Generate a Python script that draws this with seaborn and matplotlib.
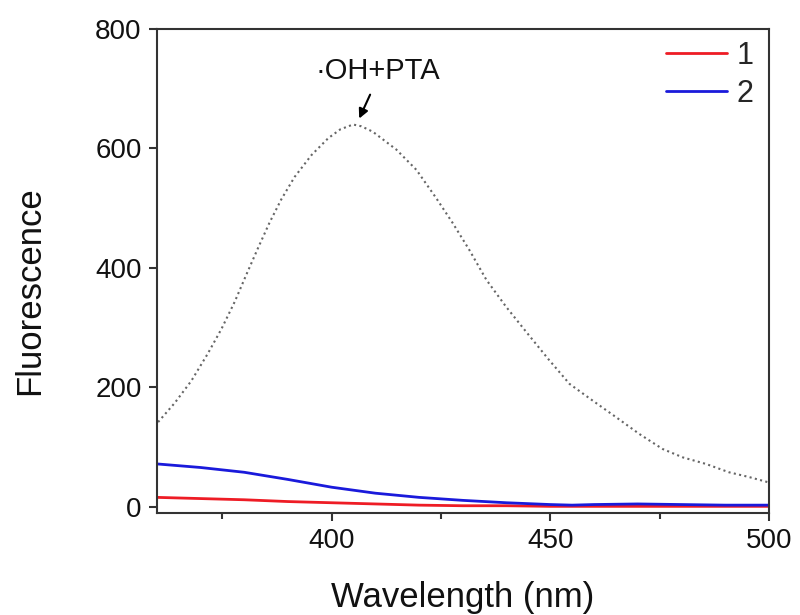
import matplotlib
matplotlib.use("Agg")
import matplotlib.pyplot as plt
import seaborn as sns
import pandas as pd
from matplotlib.ticker import MultipleLocator

# ---- data ----
wl_ref = [360.3, 364.1, 367.9, 371.7, 374.8, 377.8, 380.5, 383.2, 385.8, 388.5,
          391.5, 395.4, 399.2, 402.0, 404.9, 406.8, 409.4, 414.8, 419.4, 423.9,
          427.7, 431.5, 435.4, 439.9, 444.5, 449.5, 454.4, 459.7, 465.1, 470.4,
          475.7, 480.3, 485.6, 490.9, 495.5, 500.0]
fl_ref = [142, 174, 211, 257, 298, 343, 389, 434, 476, 515,
          552, 589, 617, 632, 640, 637, 628, 598, 564, 517,
          475, 430, 380, 335, 293, 248, 206, 178, 150, 122,
          97, 83, 72, 58, 50, 41]

wl = [360, 370, 380, 390, 400, 410, 420, 430, 440, 450, 455, 460, 470, 480, 490, 500]
fl_1 = [16, 14, 12, 9, 7, 5, 3, 2, 2, 1, 1, 1, 1, 1, 1, 1]
fl_2 = [72, 66, 58, 46, 33, 23, 16, 11, 7, 4, 3, 4, 5, 4, 3, 3]

series_labels = ["1", "2"]
annotation = "·OH+PTA"
x_label = "Wavelength (nm)"
y_label = "Fluorescence"
x_ticks = [400, 450, 500]
y_ticks = [0, 200, 400, 600, 800]

sns.set_style("white")
plt.rcParams["font.family"] = ["Liberation Sans", "DejaVu Sans"]

fig = plt.figure(figsize=(8.0, 6.15), dpi=100)
ax = fig.add_axes([0.196, 0.166, 0.765, 0.787])

df_ref = pd.DataFrame({"wl": wl_ref, "fl": fl_ref})
sns.lineplot(data=df_ref, x="wl", y="fl", ax=ax, color="#666666",
             linestyle=(0, (1, 1.6)), linewidth=1.5, legend=False)

df = pd.DataFrame({
    "wl": wl * 2,
    "fl": fl_1 + fl_2,
    "s": [series_labels[0]] * len(wl) + [series_labels[1]] * len(wl),
})
sns.lineplot(data=df, x="wl", y="fl", hue="s", ax=ax,
             palette={"1": "#ee1c25", "2": "#1a1adb"}, linewidth=2)

ax.set_xlim(360, 500)
ax.set_ylim(-10, 800)
ax.set_xticks(x_ticks)
ax.set_yticks(y_ticks)
ax.xaxis.set_minor_locator(MultipleLocator(25))

for s in ax.spines.values():
    s.set_color("#333333")
    s.set_linewidth(1.5)
    s.set_visible(True)

ax.tick_params(axis="both", which="major", direction="out", length=6, width=1.5,
               color="#333333", labelsize=20, labelcolor="#111111", pad=5)
ax.tick_params(axis="x", which="minor", direction="out", length=4, width=1.5,
               color="#333333", bottom=True)
ax.tick_params(axis="x", which="both", bottom=True, top=False)
ax.tick_params(axis="y", which="both", left=True, right=False)

ax.set_xlabel(x_label, fontsize=25, color="#111111")
ax.set_ylabel(y_label, fontsize=25, color="#111111")
ax.xaxis.label.set_va("center")
ax.yaxis.label.set_va("center")
ax.xaxis.set_label_coords(0.5, -0.174)
ax.yaxis.set_label_coords(-0.2075, 0.46)

ax.annotate("", xy=(406.3, 650), xytext=(408.8, 690),
            arrowprops=dict(arrowstyle="-|>", color="black", lw=1.5,
                            mutation_scale=14, shrinkA=0, shrinkB=0))
ax.text(410.5, 717, annotation, fontsize=21, ha="center", va="baseline", color="#111111")

leg = ax.legend(title=None, loc="upper right", frameon=False, fontsize=22,
                handlelength=2.0, handletextpad=0.3, labelspacing=0.25,
                borderaxespad=0.0, bbox_to_anchor=(0.995, 1.0))
for line in leg.get_lines():
    line.set_linewidth(2)

fig.savefig("out.png", dpi=100)
